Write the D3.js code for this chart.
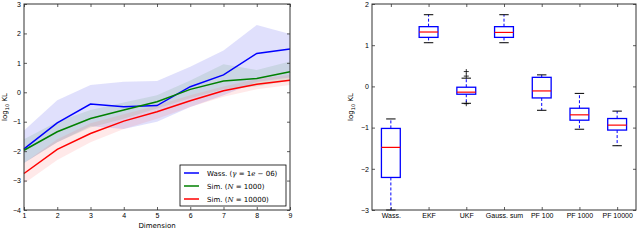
<!DOCTYPE html>
<html>
<head>
<meta charset="utf-8">
<script src="https://cdn.jsdelivr.net/npm/d3@7"></script>
<style>
  body { margin: 0; background: #fff; }
  svg { display: block; font-family: "DejaVu Sans", sans-serif; }
  .tick text { font-size: 7px; fill: #000; }
  .axis-title { font-size: 7px; fill: #000; }
</style>
</head>
<body>
<svg id="chart" width="640" height="249"></svg>
<script>
const width = 640;
const height = 249;

// left panel: log10 KL vs dimension
const dims = [1, 2, 3, 4, 5, 6, 7, 8, 9];
const wassMean = [-1.92, -1.04, -0.40, -0.49, -0.45, 0.19, 0.59, 1.32, 1.47];
const wassLow = [-2.4, -1.7, -1.15, -1.25, -1.0, -0.5, -0.1, 0.35, 0.5];
const wassHigh = [-1.3, -0.27, 0.25, 0.36, 0.38, 0.87, 1.42, 2.29, 1.98];
const sim1kMean = [-1.97, -1.34, -0.89, -0.6, -0.32, 0.1, 0.38, 0.47, 0.7];
const sim1kLow = [-2.4, -1.7, -1.2, -0.9, -0.55, -0.2, 0.1, 0.2, 0.4];
const sim1kHigh = [-1.6, -1.0, -0.6, -0.35, -0.1, 0.4, 0.95, 0.76, 1.05];
const sim10kMean = [-2.76, -1.94, -1.4, -0.98, -0.66, -0.29, 0.05, 0.27, 0.41];
const sim10kLow = [-3.1, -2.3, -1.7, -1.25, -0.9, -0.5, -0.15, 0.1, 0.25];
const sim10kHigh = [-2.4, -1.6, -1.05, -0.75, -0.45, -0.1, 0.2, 0.45, 0.6];
const leftYTicks = [-4, -3, -2, -1, 0, 1, 2, 3];

// right panel: box plots per method
const methods = ["Wass.", "EKF", "UKF", "Gauss. sum", "PF 100", "PF 1000", "PF 10000"];
const whiskLow = [-3.0, 1.06, -0.41, 1.06, -0.58, -1.04, -1.44];
const q1 = [-2.21, 1.19, -0.19, 1.19, -0.28, -0.82, -1.06];
const medians = [-1.48, 1.32, -0.14, 1.31, -0.11, -0.69, -0.94];
const q3 = [-1.02, 1.45, -0.02, 1.45, 0.22, -0.53, -0.78];
const whiskHigh = [-0.79, 1.74, 0.2, 1.74, 0.28, -0.17, -0.6];
const fliers = [[], [], [0.36, 0.25, -0.42], [], [], [], []];
const rightYTicks = [-3, -2, -1, 0, 1, 2];

const svg = d3.select("#chart");

function translate(x, y) {
  return "translate(" + x + "," + y + ")";
}

function fmt(d) {
  return d < 0 ? "\u2212" + Math.abs(d) : String(d);
}

// frame + inward ticks on all four sides
function drawFrame(x, y, xTicks, yTicks, xFormat) {
  const [x0, x1] = x.range();
  const [y1, y0] = y.range();
  const g = svg.append("g");

  g.append("g").attr("transform", translate(0, y1))
    .call(d3.axisBottom(x).tickValues(xTicks).tickSize(-3).tickPadding(3).tickFormat(xFormat));
  g.append("g").attr("transform", translate(0, y0))
    .call(d3.axisTop(x).tickValues(xTicks).tickSize(-3).tickFormat(""));
  g.append("g").attr("transform", translate(x0, 0))
    .call(d3.axisLeft(y).tickValues(yTicks).tickSize(-3).tickPadding(3).tickFormat(fmt));
  g.append("g").attr("transform", translate(x1, 0))
    .call(d3.axisRight(y).tickValues(yTicks).tickSize(-3).tickFormat(""));

  g.selectAll(".domain").remove();
  g.selectAll(".tick line").attr("stroke", "#333").attr("stroke-width", 0.8);

  g.append("rect")
    .attr("x", x0).attr("y", y0)
    .attr("width", x1 - x0).attr("height", y1 - y0)
    .attr("fill", "none").attr("stroke", "#333").attr("stroke-width", 1);
}

/* LEFT PANEL */
const xL = d3.scaleLinear().domain([1, 9]).range([24, 290]);
const yL = d3.scaleLinear().domain([-4, 3]).range([210, 4]);

const series = [
  { label: "wass", mean: wassMean, low: wassLow, high: wassHigh, color: "#0000ff", band: "#5555ee", op: 0.18 },
  { label: "sim1k", mean: sim1kMean, low: sim1kLow, high: sim1kHigh, color: "#008000", band: "#5a9a6a", op: 0.16 },
  { label: "sim10k", mean: sim10kMean, low: sim10kLow, high: sim10kHigh, color: "#ff0000", band: "#ff6666", op: 0.14 }
];

const area = d3.area()
  .x((d, i) => xL(dims[i]))
  .y0(d => yL(d[0]))
  .y1(d => yL(d[1]));

const line = d3.line()
  .x((d, i) => xL(dims[i]))
  .y(d => yL(d));

const leftPlot = svg.append("g").attr("id", "left-plot");

series.forEach(s => {
  leftPlot.append("path")
    .datum(s.low.map((v, i) => [v, s.high[i]]))
    .attr("d", area)
    .attr("fill", s.band)
    .attr("fill-opacity", s.op);
});

series.forEach(s => {
  leftPlot.append("path")
    .datum(s.mean)
    .attr("d", line)
    .attr("fill", "none")
    .attr("stroke", s.color)
    .attr("stroke-width", 1.5);
});

drawFrame(xL, yL, dims, leftYTicks, d => d);

svg.append("text")
  .attr("class", "axis-title")
  .attr("x", (24 + 290) / 2)
  .attr("y", 228)
  .attr("text-anchor", "middle")
  .text("Dimension");

function yTitle(x, y) {
  const t = svg.append("text")
    .attr("class", "axis-title")
    .attr("text-anchor", "middle")
    .attr("transform", translate(x, y) + " rotate(-90)");
  t.append("tspan").text("log");
  t.append("tspan").attr("font-size", "5px").attr("dy", 1.5).text("10");
  t.append("tspan").attr("dy", -1.5).text(" KL");
}
yTitle(7, 107);

// legend
const legend = svg.append("g").attr("transform", translate(180, 165));
legend.append("rect")
  .attr("width", 106).attr("height", 41)
  .attr("fill", "#fff").attr("stroke", "#000").attr("stroke-width", 0.8);

const legendItems = [
  { color: "#0000ff", parts: [["Wass. (", false], ["\u03b3", true], [" = 1", false], ["e", true], [" \u2212 06)", false]] },
  { color: "#008000", parts: [["Sim. (", false], ["N", true], [" = 1000)", false]] },
  { color: "#ff0000", parts: [["Sim. (", false], ["N", true], [" = 10000)", false]] }
];

legendItems.forEach((item, i) => {
  const yy = 8 + i * 13;
  legend.append("line")
    .attr("x1", 4).attr("x2", 19)
    .attr("y1", yy).attr("y2", yy)
    .attr("stroke", item.color).attr("stroke-width", 1.5);
  const t = legend.append("text")
    .attr("x", 27).attr("y", yy + 2.5)
    .attr("font-size", "7px");
  item.parts.forEach(p => {
    const ts = t.append("tspan").text(p[0]);
    if (p[1]) ts.attr("font-family", "DejaVu Serif").attr("font-style", "italic");
  });
});

/* RIGHT PANEL */
const xR = d3.scaleLinear().domain([0.5, 7.5]).range([372, 636]);
const yR = d3.scaleLinear().domain([-3, 2]).range([210, 4]);
const positions = methods.map((m, i) => i + 1);
const boxHalf = 0.25;

const rightPlot = svg.append("g").attr("id", "right-plot");

const boxes = rightPlot.selectAll("g.box")
  .data(methods)
  .enter()
  .append("g")
  .attr("class", "box");

boxes.each(function(m, i) {
  const g = d3.select(this);
  const cx = xR(positions[i]);
  const capHalf = (xR(1 + boxHalf / 2) - xR(1));

  // whiskers
  g.append("line")
    .attr("x1", cx).attr("x2", cx)
    .attr("y1", yR(q3[i])).attr("y2", yR(whiskHigh[i]))
    .attr("stroke", "#0000ff").attr("stroke-width", 1).attr("stroke-dasharray", "3,2");
  g.append("line")
    .attr("x1", cx).attr("x2", cx)
    .attr("y1", yR(q1[i])).attr("y2", yR(whiskLow[i]))
    .attr("stroke", "#0000ff").attr("stroke-width", 1).attr("stroke-dasharray", "3,2");

  // caps
  [whiskHigh[i], whiskLow[i]].forEach(v => {
    g.append("line")
      .attr("x1", cx - capHalf).attr("x2", cx + capHalf)
      .attr("y1", yR(v)).attr("y2", yR(v))
      .attr("stroke", "#000").attr("stroke-width", 1);
  });

  // box
  g.append("rect")
    .attr("x", xR(positions[i] - boxHalf))
    .attr("y", yR(q3[i]))
    .attr("width", xR(positions[i] + boxHalf) - xR(positions[i] - boxHalf))
    .attr("height", yR(q1[i]) - yR(q3[i]))
    .attr("fill", "#fff")
    .attr("stroke", "#0000ff").attr("stroke-width", 1.3);

  // median
  g.append("line")
    .attr("x1", xR(positions[i] - boxHalf)).attr("x2", xR(positions[i] + boxHalf))
    .attr("y1", yR(medians[i])).attr("y2", yR(medians[i]))
    .attr("stroke", "#ff0000").attr("stroke-width", 1.2);

  // fliers
  fliers[i].forEach(v => {
    g.append("path")
      .attr("d", "M" + (cx - 2.5) + "," + yR(v) + "h5M" + cx + "," + (yR(v) - 2.5) + "v5")
      .attr("stroke", "#000").attr("stroke-width", 0.8);
  });
});

drawFrame(xR, yR, positions, rightYTicks, (d, i) => methods[i]);

yTitle(353, 107);
</script>
</body>
</html>
